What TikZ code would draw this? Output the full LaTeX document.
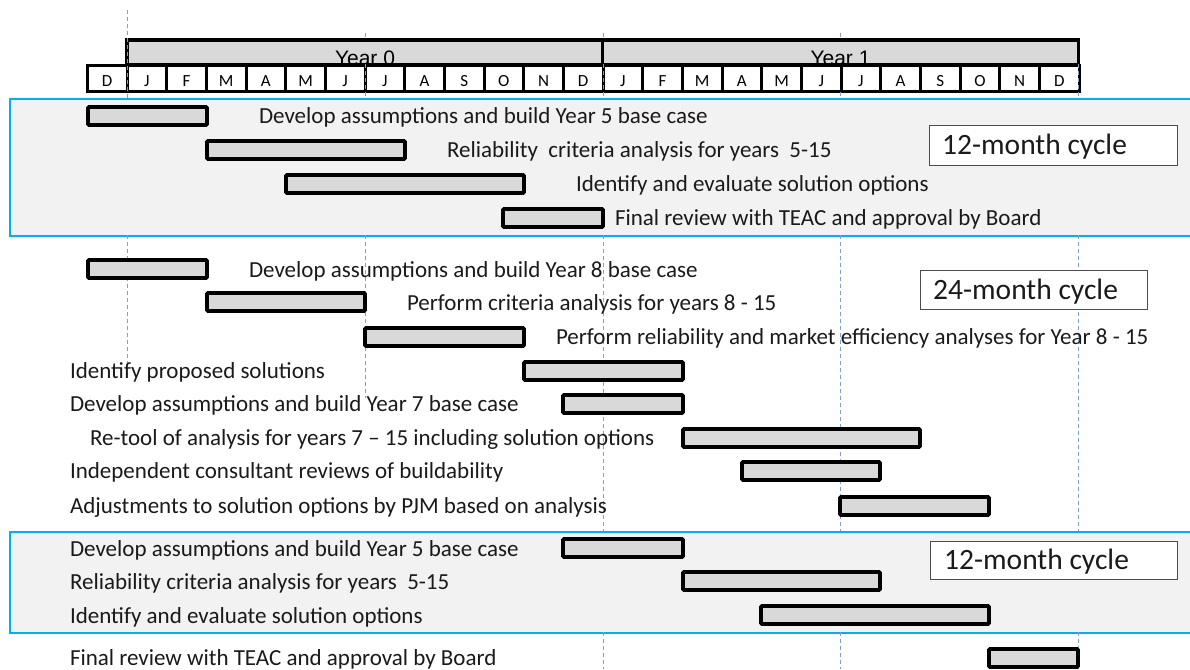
\documentclass[tikz,border=0pt]{standalone}
\usepackage{fontspec}
\setmainfont{Carlito}
\newfontfamily\arialf{Liberation Sans}
\definecolor{barfill}{HTML}{D9D9D9}
\definecolor{panelgray}{HTML}{F2F2F2}
\definecolor{panelblue}{HTML}{00B0F0}
\definecolor{dashblue}{HTML}{7E9FD6}
\definecolor{txt}{HTML}{1A1A1A}
\begin{document}
\begin{tikzpicture}[x=1pt,y=-1pt,
  bar/.style={draw=black, line width=3.6pt, fill=barfill, rectangle, rounded corners=1pt, inner sep=0pt, outer sep=0pt, minimum height=18pt},
  lbl/.style={anchor=base west, inner sep=0pt, outer sep=0pt, text=txt, font=\fontsize{23}{26}\selectfont},
  panel/.style={draw=panelblue, line width=1.6pt, fill=panelgray},
  cyclebox/.style={draw=black!70, line width=1pt, fill=white, inner sep=0pt},
  cycletext/.style={anchor=base west, inner sep=0pt, text=txt, font=\fontsize{29.5}{32}\selectfont},
  vline/.style={draw=dashblue, line width=0.9pt, dash pattern=on 4pt off 3pt},
  monthcell/.style={draw=black, line width=3pt, fill=white, minimum width=39.67pt, minimum height=26pt, inner sep=0pt},
  monthtext/.style={anchor=base, inner sep=0pt, text=black, font=\fontsize{17}{19}\selectfont},
  yearbox/.style={draw=black, line width=3.5pt, fill=barfill, minimum width=476pt, minimum height=25pt, inner sep=0pt},
  yeartext/.style={anchor=base, inner sep=0pt, text=black, font=\arialf\fontsize{21}{24}\selectfont}
]
\useasboundingbox (0,0) rectangle (1190,669);
% panels
\node[panel, minimum width=1190pt, minimum height=137pt, anchor=north west, inner sep=0pt] (p1) at (9,98) {};
\node[panel, minimum width=1190pt, minimum height=101pt, anchor=north west, inner sep=0pt] (p3) at (9,531) {};
% header
\node[yearbox] (y0) at (365,52.5) {};
\node[yearbox] (y1) at (840.5,52.5) {};
\foreach \m/\l [count=\i from -1] in {-1/D,0/J,1/F,2/M,3/A,4/M,5/J,6/J,7/A,8/S,9/O,10/N,11/D,12/J,13/F,14/M,15/A,16/M,17/J,18/J,19/A,20/S,21/O,22/N,23/D}{
  \node[monthcell] (m\i) at ({127+(\m+0.5)*39.67},78) {};
  \node[monthtext] (mt\i) at ({127+(\m+0.5)*39.67},86) {\l};
}
\node[yeartext] (y0t) at (365,66) {Year 0};
\node[yeartext] (y1t) at (840.5,66) {Year 1};
% dashed lines
\draw[vline] (127,10) -- (127,98);
\draw[vline] (365,33) -- (365,40);
\draw[vline] (603,33) -- (603,40);
\draw[vline] (840,33) -- (840,40);
\draw[vline] (365,64) -- (365,98);
\draw[vline] (603,64) -- (603,98);
\draw[vline] (840,92) -- (840,98);
\draw[vline] (1078,64) -- (1078,98);
\draw[vline] (127,235) -- (127,365);
\draw[vline] (365,235) -- (365,398);
\draw[vline] (603,235) -- (603,531);
\draw[vline] (840,235) -- (840,531);
\draw[vline] (1078,235) -- (1078,531);
\draw[vline] (603,632) -- (603,669);
\draw[vline] (840,632) -- (840,669);
\draw[vline] (1078,632) -- (1078,669);
% panel 1 rows
\node[bar, minimum width=119pt] (b1) at (147.5,116) {};
\node[bar, minimum width=198pt] (b2) at (306,150) {};
\node[bar, minimum width=238pt] (b3) at (405,184) {};
\node[bar, minimum width=100pt] (b4) at (553,218) {};
\node[lbl] (t1) at (259,123) {Develop assumptions and build Year 5 base case};
\node[lbl] (t2) at (447,157) {Reliability\ \ criteria analysis for years\ \ 5-15};
\node[lbl] (t3) at (576,191) {Identify and evaluate solution options};
\node[lbl] (t4) at (615,225) {Final review with TEAC and approval by Board};
\node[cyclebox, minimum width=248pt, minimum height=40pt] (c1) at (1053,145) {};
\node[cycletext] (c1t) at (942,154.5) {12-month cycle};
% middle rows
\node[bar, minimum width=119pt] (b5) at (147.5,269) {};
\node[bar, minimum width=158pt] (b6) at (286,302) {};
\node[bar, minimum width=159pt] (b7) at (444.5,337) {};
\node[bar, minimum width=159pt] (b8) at (603.5,371) {};
\node[bar, minimum width=120pt] (b9) at (623,404) {};
\node[bar, minimum width=237pt] (b10) at (801.5,438) {};
\node[bar, minimum width=138pt] (b11) at (811,471) {};
\node[bar, minimum width=149pt] (b12) at (914.5,506) {};
\node[lbl] (t5) at (249,277) {Develop assumptions and build Year 8 base case};
\node[lbl] (t6) at (407,310) {Perform criteria analysis for years 8 - 15};
\node[lbl] (t7) at (556,344) {Perform reliability and market efficiency analyses for Year 8 - 15};
\node[lbl] (t8) at (70,378) {Identify proposed solutions};
\node[lbl] (t9) at (70,411) {Develop assumptions and build Year 7 base case};
\node[lbl] (t10) at (90,445) {Re-tool of analysis for years 7 -- 15 including solution options};
\node[lbl] (t11) at (70,478) {Independent consultant reviews of buildability};
\node[lbl] (t12) at (70,513) {Adjustments to solution options by PJM based on analysis};
\node[cyclebox, minimum width=227pt, minimum height=39pt] (c2) at (1033.5,289.5) {};
\node[cycletext] (c2t) at (933,299.5) {24-month cycle};
% panel 3 rows
\node[bar, minimum width=120pt] (b13) at (623,548) {};
\node[bar, minimum width=197pt] (b14) at (781.5,581) {};
\node[bar, minimum width=228pt] (b15) at (875,615) {};
\node[bar, minimum width=89pt] (b16) at (1033.5,658) {};
\node[lbl] (t13) at (70,556) {Develop assumptions and build Year 5 base case};
\node[lbl] (t14) at (70,589) {Reliability criteria analysis for years\ \ 5-15};
\node[lbl] (t15) at (70,623) {Identify and evaluate solution options};
\node[lbl] (t16) at (70,665) {Final review with TEAC and approval by Board};
\node[cyclebox, minimum width=247pt, minimum height=38pt] (c3) at (1053.5,560) {};
\node[cycletext] (c3t) at (944,569.5) {12-month cycle};
\end{tikzpicture}
\end{document}
